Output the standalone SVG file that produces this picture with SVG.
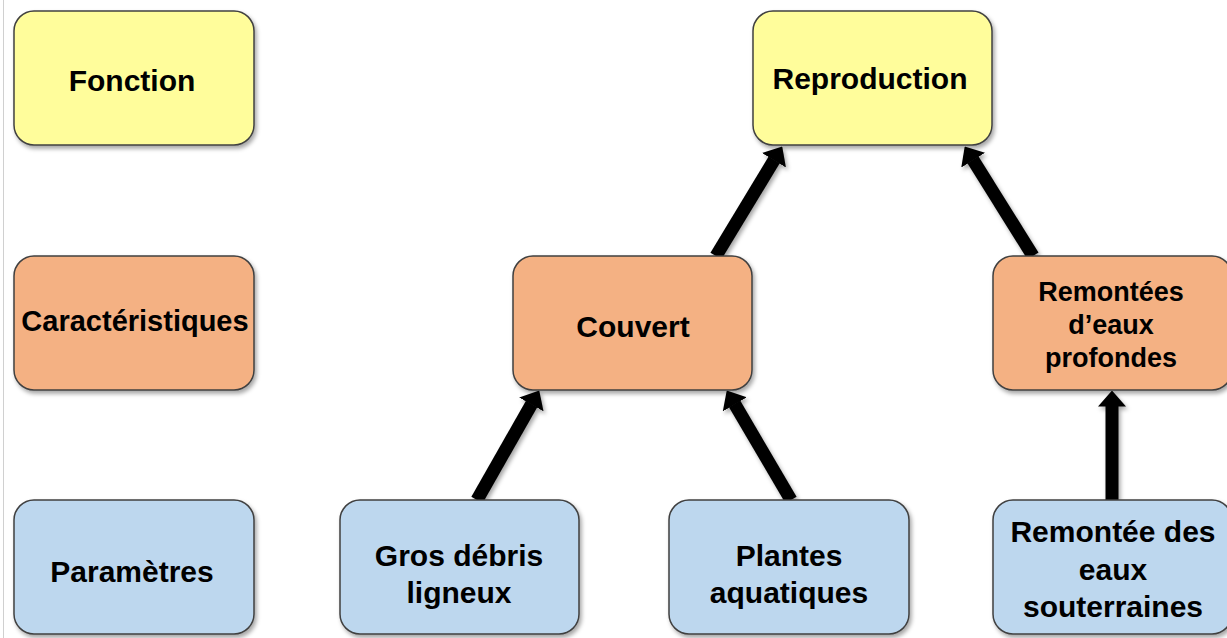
<svg xmlns="http://www.w3.org/2000/svg" width="1227" height="638" viewBox="0 0 1227 638">
<style>
.box{stroke:#404040;stroke-width:1.5;filter:url(#sh)}
.y{fill:#FFFD9B}
.o{fill:#F4B183}
.b{fill:#BDD7EE}
text{font-family:"Liberation Sans",Arial,sans-serif;font-weight:bold;font-size:30px;fill:#000;text-anchor:middle}
.arr{stroke:#000;stroke-width:13;fill:none;marker-end:url(#ah)}
</style>
<defs>
<filter id="sh" x="-10%" y="-10%" width="125%" height="130%">
<feDropShadow dx="2" dy="3" stdDeviation="2" flood-color="#000" flood-opacity="0.35"/>
</filter>
<marker id="ah" markerUnits="userSpaceOnUse" viewBox="0 0 16 28" refX="0.5" refY="14" markerWidth="16" markerHeight="28" orient="auto">
<path d="M0,0 L16,14 L0,28 z" fill="#000"/>
</marker>
</defs>
<rect width="1227" height="638" fill="#fff"/>
<line x1="3.5" y1="0" x2="3.5" y2="638" stroke="#d0d0d0" stroke-width="1"/>
<g id="connectors" filter="url(#sh)">
<line class="arr" x1="716" y1="256" x2="774.2" y2="159.8"/>
<line class="arr" x1="1033" y1="256" x2="972.9" y2="159.7"/>
<line class="arr" x1="477" y1="500" x2="531.6" y2="404"/>
<line class="arr" x1="791" y1="500" x2="734.6" y2="403.9"/>
<line class="arr" x1="1112" y1="500" x2="1112" y2="406"/>
</g>
<g id="fonction"><rect class="box y" x="14" y="11" width="240" height="134" rx="20"/><text x="132" y="91">Fonction</text></g>
<g id="reproduction"><rect class="box y" x="753" y="11" width="239" height="134" rx="20"/><text x="870" y="89">Reproduction</text></g>
<g id="caracteristiques"><rect class="box o" x="14" y="256" width="240" height="134" rx="20"/><text style="font-size:29px" x="135" y="331">Caractéristiques</text></g>
<g id="couvert"><rect class="box o" x="513" y="256" width="239" height="134" rx="20"/><text x="633" y="337">Couvert</text></g>
<g id="remontees"><rect class="box o" x="993" y="256" width="239" height="134" rx="20"/><text style="font-size:27px" x="1111" y="301">Remontées</text><text style="font-size:27px" x="1111" y="334">d’eaux</text><text style="font-size:27px" x="1111" y="367">profondes</text></g>
<g id="parametres"><rect class="box b" x="14" y="500" width="240" height="134" rx="20"/><text x="132" y="582">Paramètres</text></g>
<g id="gros"><rect class="box b" x="340" y="500" width="239" height="134" rx="20"/><text x="459" y="566">Gros débris</text><text x="459" y="603">ligneux</text></g>
<g id="plantes"><rect class="box b" x="669" y="500" width="240" height="134" rx="20"/><text x="789" y="566">Plantes</text><text x="789" y="603">aquatiques</text></g>
<g id="remontee"><rect class="box b" x="993" y="500" width="239" height="134" rx="20"/><text x="1113" y="542">Remontée des</text><text x="1113" y="580">eaux</text><text x="1113" y="617">souterraines</text></g>
</svg>
